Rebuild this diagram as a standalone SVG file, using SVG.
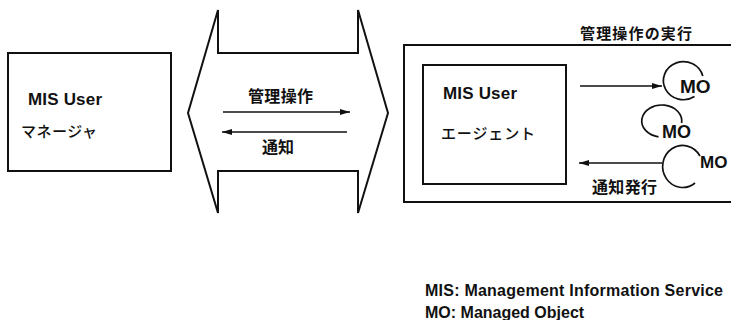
<svg xmlns="http://www.w3.org/2000/svg" width="731" height="320" viewBox="0 0 731 320">
<defs>
<style>
.box{fill:none;stroke:#111;stroke-width:2}
.ln{fill:none;stroke:#111;stroke-width:1.6}
.arc{fill:none;stroke:#111;stroke-width:1.7}
.en{font-family:"Liberation Sans",Arial,sans-serif;font-weight:bold;fill:#111}
.jp{font-family:"Noto Sans CJK JP","Noto Sans",sans-serif;fill:#111}
.jb{font-weight:bold}
</style>
<marker id="ah" viewBox="0 0 10 6" refX="10" refY="3" markerWidth="10" markerHeight="6" markerUnits="userSpaceOnUse" orient="auto">
<path d="M0,0 L10,3 L0,6 Z" fill="#111"/>
</marker>
</defs>
<rect width="731" height="320" fill="#fff"/>

<g id="manager">
<rect class="box" x="8" y="53" width="163" height="118"/>
<text class="en" x="28" y="105" font-size="17" textLength="74">MIS User</text>
<text class="jp" x="21" y="137" font-size="15" textLength="76" font-weight="500">マネージャ</text>
</g>

<g id="channel">
<polygon class="box" points="218,10 188,113 218,213 218,171 358,171 358,213 388,113 358,10 358,53 218,53"/>
</g>

<g id="agent">
<path class="box" d="M733,45 H404 V202 H733"/>
<text class="jp jb" x="580" y="39" font-size="15" textLength="112">管理操作の実行</text>
</g>

<g id="agent-user">
<rect class="box" x="423" y="65" width="143" height="119"/>
<text class="en" x="443" y="99" font-size="17" textLength="74">MIS User</text>
<text class="jp" x="441" y="139" font-size="15" textLength="94" font-weight="500">エージェント</text>
</g>

<g id="mo1">
<path class="arc" d="M702.8,76 A20,19 0 1 0 694.5,96.5"/>
<text class="en" x="680" y="93" font-size="19">MO</text>
</g>
<g id="mo2">
<path class="arc" d="M681.6,123 A20,16 0 1 0 658.5,136.8"/>
<text class="en" x="662" y="138" font-size="18">MO</text>
</g>
<g id="mo3">
<path class="arc" d="M700,156 A20,21 0 1 0 695,183"/>
<text class="en" x="700" y="168" font-size="17">MO</text>
</g>

<g id="connectors">
<line class="ln" x1="223" y1="112" x2="350" y2="112" marker-end="url(#ah)"/>
<line class="ln" x1="347" y1="132" x2="222" y2="132" marker-end="url(#ah)"/>
<line class="ln" x1="580" y1="86" x2="662" y2="86" marker-end="url(#ah)"/>
<line class="ln" x1="662" y1="163" x2="579" y2="163" marker-end="url(#ah)"/>
</g>

<g id="labels">
<text class="jp jb" x="248" y="102" font-size="16" textLength="65">管理操作</text>
<text class="jp jb" x="262" y="153" font-size="16" textLength="32">通知</text>
<text class="jp jb" x="592" y="193" font-size="16" textLength="65">通知発行</text>
</g>

<g id="legend">
<text class="en" x="425" y="296" font-size="16" textLength="298">MIS: Management Information Service</text>
<text class="en" x="425" y="318" font-size="16">MO: Managed Object</text>
</g>
</svg>
